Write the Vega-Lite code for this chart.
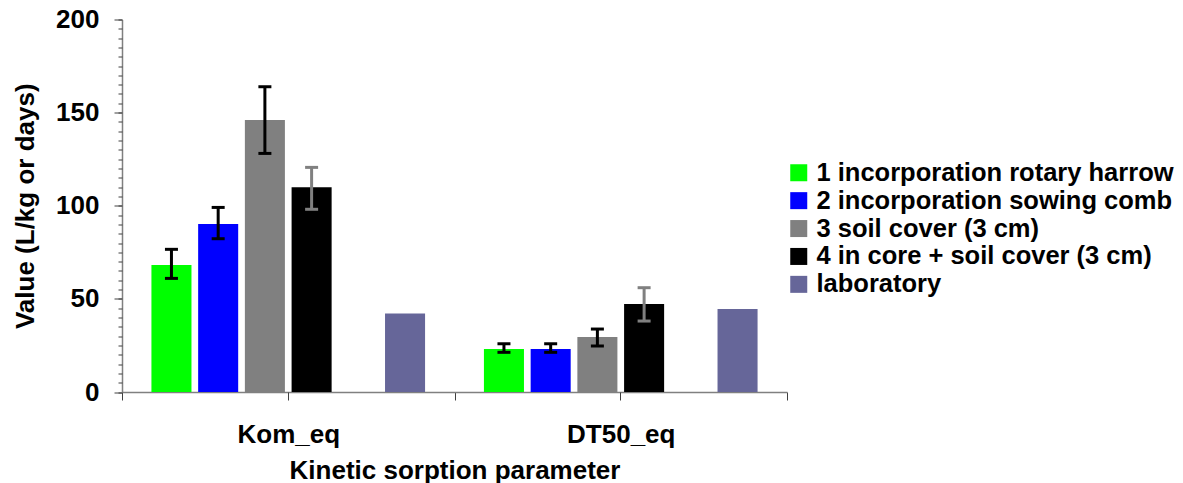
{
  "$schema": "https://vega.github.io/schema/vega-lite/v6.json",
  "width": 665,
  "height": 372.5,
  "autosize": {"type": "none"},
  "padding": {"left": 122, "top": 19.5, "right": 396, "bottom": 91},
  "background": "white",
  "config": {
    "view": {"stroke": null},
    "font": "Liberation Sans",
    "axis": {"labelFont": "Liberation Sans", "titleFont": "Liberation Sans", "grid": false}
  },
  "data": {
    "values": [
      {"param": "Kom_eq", "series": "1 incorporation rotary harrow", "value": 68.2, "low": 61.0, "high": 76.6},
      {"param": "Kom_eq", "series": "2 incorporation sowing comb", "value": 90.2, "low": 82.3, "high": 99.1},
      {"param": "Kom_eq", "series": "3 soil cover (3 cm)", "value": 146.0, "low": 128.1, "high": 163.9},
      {"param": "Kom_eq", "series": "4 in core + soil cover (3 cm)", "value": 110.0, "low": 98.1, "high": 120.6},
      {"param": "Kom_eq", "series": "laboratory", "value": 42.2, "low": null, "high": null},
      {"param": "DT50_eq", "series": "1 incorporation rotary harrow", "value": 23.1, "low": 21.3, "high": 25.9},
      {"param": "DT50_eq", "series": "2 incorporation sowing comb", "value": 23.1, "low": 21.3, "high": 25.9},
      {"param": "DT50_eq", "series": "3 soil cover (3 cm)", "value": 29.5, "low": 24.7, "high": 33.8},
      {"param": "DT50_eq", "series": "4 in core + soil cover (3 cm)", "value": 47.2, "low": 38.1, "high": 56.0},
      {"param": "DT50_eq", "series": "laboratory", "value": 44.6, "low": null, "high": null}
    ]
  },
  "encoding": {
    "xOffset": {
      "field": "series",
      "type": "nominal",
      "scale": {
        "domain": ["1 incorporation rotary harrow", "2 incorporation sowing comb", "3 soil cover (3 cm)", "4 in core + soil cover (3 cm)", "gap", "laboratory"],
        "paddingInner": 0.143,
        "paddingOuter": 0.63
      }
    }
  },
  "layer": [
    {
      "mark": {"type": "bar", "strokeWidth": 0},
      "encoding": {
        "x": {
          "field": "param",
          "type": "nominal",
          "sort": ["Kom_eq", "DT50_eq"],
          "scale": {"paddingInner": 0, "paddingOuter": 0},
          "axis": {
            "orient": "bottom",
            "title": "Kinetic sorption parameter",
            "labelAngle": 0,
            "tickBand": "extent",
            "tickSize": 8,
            "tickColor": "#404040",
            "domainColor": "#808080",
            "domainWidth": 1.5,
            "labelFontSize": 26,
            "labelFontWeight": "bold",
            "labelColor": "#000000",
            "labelPadding": 21,
            "titleFontSize": 26,
            "titleFontWeight": "bold",
            "titleColor": "#000000",
            "titlePadding": 10
          }
        },
        "y": {
          "field": "value",
          "type": "quantitative",
          "scale": {"domain": [0, 200], "nice": false},
          "axis": {
            "orient": "left",
            "title": "Value (L/kg or days)",
            "values": [0, 50, 100, 150, 200],
            "tickSize": 8,
            "tickColor": "#404040",
            "domainColor": "#808080",
            "domainWidth": 1.5,
            "labelFontSize": 26,
            "labelFontWeight": "bold",
            "labelColor": "#000000",
            "labelPadding": 15,
            "titleFontSize": 26,
            "titleFontWeight": "bold",
            "titleColor": "#000000",
            "titlePadding": 17
          }
        },
        "color": {
          "field": "series",
          "type": "nominal",
          "scale": {
            "domain": ["1 incorporation rotary harrow", "2 incorporation sowing comb", "3 soil cover (3 cm)", "4 in core + soil cover (3 cm)", "laboratory"],
            "range": ["#00FF00", "#0000FF", "#808080", "#000000", "#666699"]
          },
          "legend": {
            "orient": "none",
            "legendX": 664,
            "legendY": 140.5,
            "title": null,
            "padding": 0,
            "symbolType": "square",
            "symbolSize": 289,
            "symbolStrokeWidth": 0,
            "labelFontSize": 25.5,
            "labelFontWeight": "bold",
            "labelColor": "#000000",
            "labelFont": "Liberation Sans",
            "labelOffset": 5,
            "labelLimit": 600,
            "rowPadding": 0.9
          }
        }
      }
    },
    {
      "mark": {"type": "rule", "strokeWidth": 3},
      "encoding": {
        "x": {
          "field": "param",
          "type": "nominal",
          "sort": ["Kom_eq", "DT50_eq"],
          "axis": {
            "orient": "bottom",
            "title": null,
            "labels": false,
            "domain": false,
            "tickSize": 8,
            "tickColor": "#404040"
          }
        },
        "y": {
          "field": "low",
          "type": "quantitative",
          "axis": {
            "orient": "left",
            "title": null,
            "labels": false,
            "domain": false,
            "values": [0,5,10,15,20,25,30,35,40,45,50,55,60,65,70,75,80,85,90,95,100,105,110,115,120,125,130,135,140,145,150,155,160,165,170,175,180,185,190,195,200],
            "tickSize": 4,
            "tickColor": "#404040"
          }
        },
        "y2": {"field": "high"},
        "color": {
          "condition": {"test": "datum.series === '4 in core + soil cover (3 cm)'", "value": "#808080"},
          "value": "#000000"
        }
      }
    },
    {
      "mark": {"type": "point", "shape": "M-1,0H1", "size": 169, "strokeWidth": 3, "filled": false, "opacity": 1},
      "encoding": {
        "x": {"field": "param", "type": "nominal", "sort": ["Kom_eq", "DT50_eq"], "axis": null},
        "y": {"field": "low", "type": "quantitative", "axis": null},
        "color": {
          "condition": {"test": "datum.series === '4 in core + soil cover (3 cm)'", "value": "#808080"},
          "value": "#000000"
        }
      }
    },
    {
      "mark": {"type": "point", "shape": "M-1,0H1", "size": 169, "strokeWidth": 3, "filled": false, "opacity": 1},
      "encoding": {
        "x": {"field": "param", "type": "nominal", "sort": ["Kom_eq", "DT50_eq"], "axis": null},
        "y": {"field": "high", "type": "quantitative", "axis": null},
        "color": {
          "condition": {"test": "datum.series === '4 in core + soil cover (3 cm)'", "value": "#808080"},
          "value": "#000000"
        }
      }
    }
  ],
  "resolve": {"axis": {"x": "independent", "y": "independent"}}
}
